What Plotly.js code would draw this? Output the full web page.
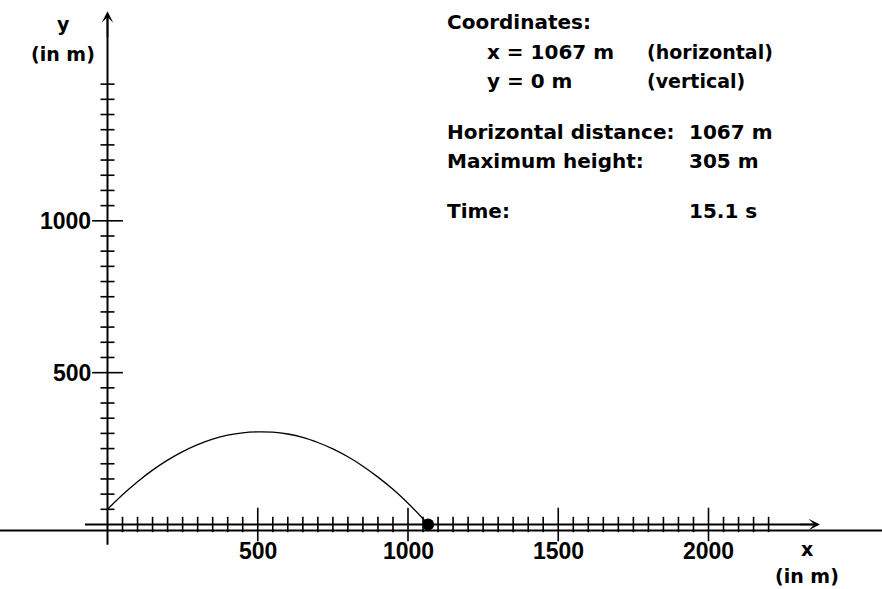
<!DOCTYPE html>
<html>
<head>
<meta charset="utf-8">
<script src="https://cdn.plot.ly/plotly-3.0.1.min.js"></script>
<style>html,body{margin:0;padding:0;background:#fff;}#chart{width:882px;height:589px;}</style>
</head>
<body>
<div id="chart"></div>
<script>
// ---- data ----
const trajX = [0, 50, 100, 150, 200, 250, 300, 350, 400, 450, 500, 550, 600, 650, 700, 750, 800, 850, 900, 950, 1000, 1050, 1067];
const trajY = [50, 98, 141, 179, 212, 240, 263, 281, 294, 302, 305, 304, 298, 287, 270, 249, 223, 192, 156, 116, 70, 19, 0];
const pointX = [1067];
const pointY = [0];

const xMajorTicks = [500, 1000, 1500, 2000];
const xMinorTicks = [50, 100, 150, 200, 250, 300, 350, 400, 450, 550, 600, 650, 700, 750, 800, 850, 900, 950,
  1050, 1100, 1150, 1200, 1250, 1300, 1350, 1400, 1450, 1550, 1600, 1650, 1700, 1750, 1800, 1850, 1900, 1950,
  2050, 2100, 2150, 2200];
const yMajorTicks = [500, 1000];
const yMinorTicks = [50, 100, 150, 200, 250, 300, 350, 400, 450, 550, 600, 650, 700, 750, 800, 850, 900, 950,
  1050, 1100, 1150, 1200, 1250, 1300, 1350, 1400, 1450];
const xTickLabels = ['500', '1000', '1500', '2000'];
const yTickLabels = ['500', '1000'];

const infoLabels = ['Coordinates:', 'Horizontal distance:', 'Maximum height:', 'Time:'];
const coordLines = ['x = 1067 m', 'y = 0 m'];
const coordNotes = ['(horizontal)', '(vertical)'];
const infoValues = ['1067 m', '305 m', '15.1 s'];

// ---- layout helpers ----
const W = 882, H = 589;
const X0 = 107.5, XS = 0.3005;   // pixel of x=0, px per metre
const Y0 = 524.5, YS = 0.3037;   // pixel of y=0, px per metre
const px = p => p / W;
const py = p => 1 - p / H;
const NUMFONT = 'Liberation Sans, Arial, sans-serif';
const TXTFONT = 'DejaVu Sans, Verdana, sans-serif';

const black = '#000';
const traces = [
  // x axis line
  {x: [-75, 2360], y: [0, 0], mode: 'lines', line: {color: black, width: 2}, hoverinfo: 'skip'},
  // y axis line
  {x: [0, 0], y: [-67, 1680], mode: 'lines', line: {color: black, width: 2}, hoverinfo: 'skip'},
  // x minor ticks
  {x: xMinorTicks, y: xMinorTicks.map(() => 0), mode: 'markers',
   marker: {symbol: 'line-ns', size: 11, line: {color: black, width: 1.6}}, hoverinfo: 'skip'},
  // x major ticks
  {x: xMajorTicks, y: xMajorTicks.map(() => 0), mode: 'markers',
   marker: {symbol: 'line-ns', size: 24, line: {color: black, width: 1.6}}, hoverinfo: 'skip'},
  // y minor ticks
  {x: yMinorTicks.map(() => 0), y: yMinorTicks, mode: 'markers',
   marker: {symbol: 'line-ew', size: 10, line: {color: black, width: 1.6}}, hoverinfo: 'skip'},
  // y major ticks
  {x: yMajorTicks.map(() => 0), y: yMajorTicks, mode: 'markers',
   marker: {symbol: 'line-ew', size: 22, line: {color: black, width: 1.6}}, hoverinfo: 'skip'},
  // trajectory
  {x: trajX, y: trajY, mode: 'lines', line: {color: black, width: 1.3, shape: 'spline'}, hoverinfo: 'skip'},
  // projectile
  {x: pointX, y: pointY, mode: 'markers', marker: {color: black, size: 12, symbol: 'circle'}, hoverinfo: 'skip'}
];

const annotations = [];
const txt = (s, size, fam) => ({text: '<b>' + s + '</b>', font: {family: fam || TXTFONT, size: size, color: black}, showarrow: false});

// tick labels on x axis
xMajorTicks.forEach((v, i) => annotations.push(Object.assign(txt(xTickLabels[i], 23, NUMFONT), {
  x: v, y: (Y0 - 551) / YS, xref: 'x', yref: 'y', xanchor: 'center', yanchor: 'middle'})));
// tick labels on y axis
yMajorTicks.forEach((v, i) => annotations.push(Object.assign(txt(yTickLabels[i], 23, NUMFONT), {
  x: (93 - X0) / XS, y: v, xref: 'x', yref: 'y', xanchor: 'right', yanchor: 'middle'})));

// axis names
annotations.push(Object.assign(txt('y', 19), {x: px(63), y: py(24), xref: 'paper', yref: 'paper', xanchor: 'center', yanchor: 'middle'}));
annotations.push(Object.assign(txt('(in m)', 19), {x: px(63), y: py(54), xref: 'paper', yref: 'paper', xanchor: 'center', yanchor: 'middle'}));
annotations.push(Object.assign(txt('x', 19), {x: px(807), y: py(549), xref: 'paper', yref: 'paper', xanchor: 'center', yanchor: 'middle'}));
annotations.push(Object.assign(txt('(in m)', 19), {x: px(807), y: py(576), xref: 'paper', yref: 'paper', xanchor: 'center', yanchor: 'middle'}));

// info block
const infoY = [22, 132, 161, 211];
infoLabels.forEach((s, i) => annotations.push(Object.assign(txt(s, 20), {
  x: px(445), y: py(infoY[i]), xref: 'paper', yref: 'paper', xanchor: 'left', yanchor: 'middle'})));
const coordY = [52, 81];
coordLines.forEach((s, i) => annotations.push(Object.assign(txt(s, 20), {
  x: px(485), y: py(coordY[i]), xref: 'paper', yref: 'paper', xanchor: 'left', yanchor: 'middle'})));
coordNotes.forEach((s, i) => annotations.push(Object.assign(txt(s, 19), {
  x: px(645), y: py(coordY[i]), xref: 'paper', yref: 'paper', xanchor: 'left', yanchor: 'middle'})));
const valY = [132, 161, 211];
infoValues.forEach((s, i) => annotations.push(Object.assign(txt(s, 20), {
  x: px(687), y: py(valY[i]), xref: 'paper', yref: 'paper', xanchor: 'left', yanchor: 'middle'})));

// arrowheads at the axis ends
annotations.push({x: 2371, y: 0, ax: 2300, ay: 0, xref: 'x', yref: 'y', axref: 'x', ayref: 'y',
  text: '', showarrow: true, arrowhead: 3, arrowsize: 1.2, arrowwidth: 1.6, arrowcolor: black});
annotations.push({x: 0, y: 1690, ax: 0, ay: 1600, xref: 'x', yref: 'y', axref: 'x', ayref: 'y',
  text: '', showarrow: true, arrowhead: 3, arrowsize: 1.2, arrowwidth: 1.6, arrowcolor: black});

const layout = {
  width: W, height: H,
  margin: {l: 0, r: 0, t: 0, b: 0, pad: 0},
  paper_bgcolor: '#fff', plot_bgcolor: '#fff',
  showlegend: false,
  xaxis: {range: [-X0 / XS, (W - X0) / XS], visible: false, fixedrange: true},
  yaxis: {range: [-(H - Y0) / YS, Y0 / YS], visible: false, fixedrange: true},
  shapes: [
    // ground line across the whole picture
    {type: 'line', xref: 'paper', yref: 'y', x0: 0, x1: 1, y0: -20, y1: -20, line: {color: black, width: 2}}
  ],
  annotations: annotations
};

Plotly.newPlot('chart', traces, layout, {staticPlot: true, displayModeBar: false});
</script>
</body>
</html>
